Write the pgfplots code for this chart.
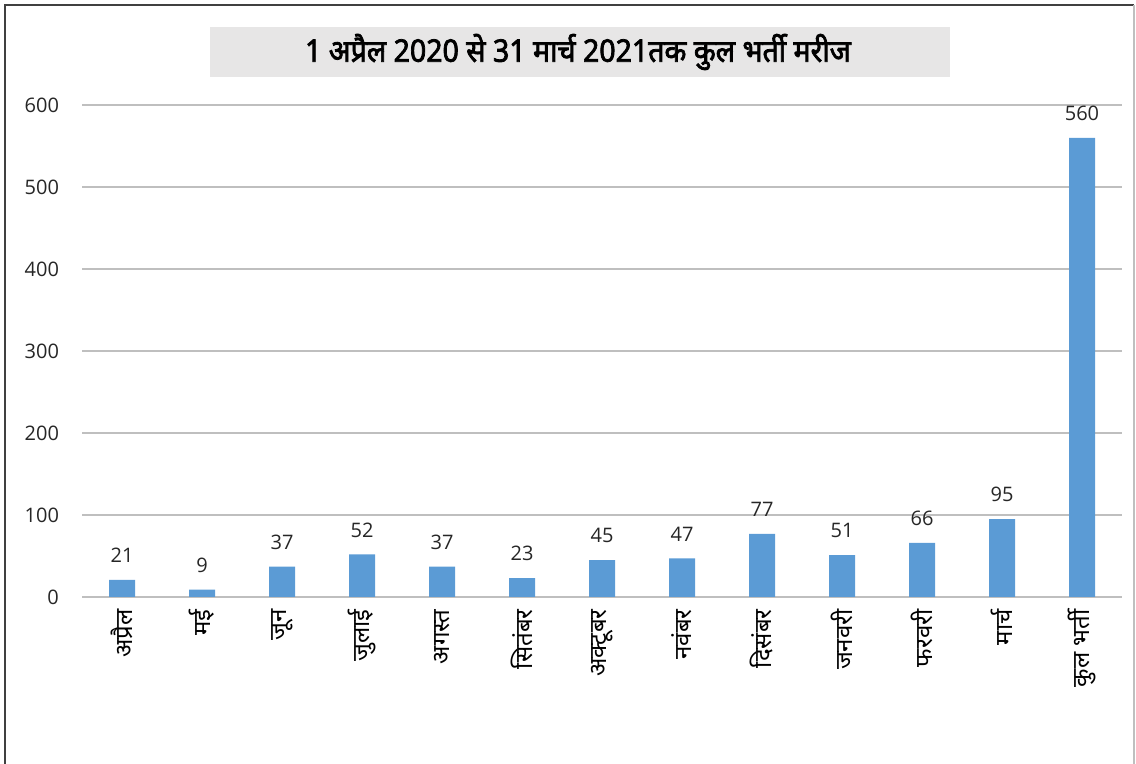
\documentclass[border=0pt]{standalone}
\usepackage{pgfplots}
\pgfplotsset{compat=1.18}
\usepackage{fontspec}
\setmainfont{Open Sans}
\newfontfamily\deva[Script=Devanagari]{Noto Sans}
\newfontfamily\devab[Script=Devanagari, FakeBold=2.5]{Noto Sans}
\definecolor{barblue}{HTML}{5B9BD5}
\definecolor{gridgray}{HTML}{BFBFBF}
\definecolor{titlegray}{HTML}{E7E6E6}
\begin{document}
\begin{tikzpicture}
\useasboundingbox (0,0) rectangle (568pt,382pt);
\draw[line width=1pt, black!75] (2.5pt,0) -- (2.5pt,379.5pt) -- (567pt,379.5pt);
\draw[line width=0.6pt, black!25] (567pt,379.5pt) -- (567pt,0);
\fill[titlegray] (105pt,343.5pt) rectangle (475pt,368.5pt);
\node[font=\devab\fontsize{15.5}{17}\selectfont, anchor=center, xscale=0.92] at (289pt,356pt) {1 अप्रैल 2020 से 31 मार्च 2021तक कुल भर्ती मरीज};
\begin{axis}[
  at={(41pt,83.5pt)}, anchor=south west,
  scale only axis, width=520pt, height=246pt,
  xmin=-0.5, xmax=12.5, ymin=0, ymax=600,
  ytick={0,100,...,600},
  xtick={0,...,12},
  xticklabels={अप्रैल,मई,जून,जुलाई,अगस्त,सितंबर,अक्टूबर,नवंबर,दिसंबर,जनवरी,फरवरी,मार्च,कुल भर्ती},
  x tick label style={font=\deva\fontsize{12}{14}\selectfont, rotate=90, anchor=east, inner sep=0pt},
  xticklabel shift=6pt,
  y tick label style={font=\fontsize{10}{12}\selectfont, text=black!85},
  yticklabel shift=8pt,
  /pgf/number format/assume math mode=true,
  axis line style={draw=none},
  major tick length=0pt,
  ymajorgrids, grid style={gridgray, line width=0.8pt},
  ybar, bar width=13pt,
  nodes near coords,
  nodes near coords style={font=\fontsize{10}{12}\selectfont, text=black!85, yshift=5pt},
  clip=false,
]
\addplot[fill=barblue, draw=none] coordinates {
(0,21) (1,9) (2,37) (3,52) (4,37) (5,23) (6,45) (7,47) (8,77) (9,51) (10,66) (11,95) (12,560)};
\end{axis}
\end{tikzpicture}
\end{document}
